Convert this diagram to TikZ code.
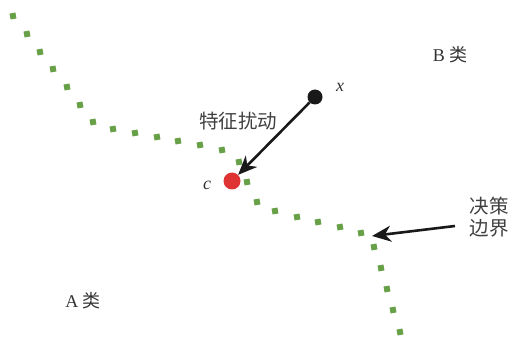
\documentclass[tikz,border=0pt]{standalone}
\usepackage{fontspec}
\setmainfont{Liberation Serif}
\newfontfamily\cjk{Noto Sans CJK SC}
\usetikzlibrary{arrows.meta}
\definecolor{dotgreen}{RGB}{104,160,72}
\definecolor{cred}{RGB}{222,52,52}
\tikzset{
  dotsq/.style={fill=dotgreen, minimum size=6pt, inner sep=0pt, draw=none, rectangle, rotate=10},
  arr/.style={-{Stealth[length=19pt,width=16pt,inset=6pt]}, line width=2.6pt, black!90},
  lbl/.style={font=\fontsize{18}{20}\selectfont, inner sep=0pt, text=black!80},
  cjklbl/.style={font=\fontsize{19.5}{22}\selectfont\cjk, inner sep=0pt, text=black!75},
}
\begin{document}
\begin{tikzpicture}[x=1pt,y=-1pt]
\useasboundingbox (0,0) rectangle (509,342);
% decision boundary dots
\foreach \p [count=\i] in {(13,16),(27,34),(40,52),(53,69),(67,87),(80,105),(93,122),
  (113,129),(135,133),(157,137),(178,141),(200,145),(222,150),(239,162),
  (247,182),(257,202),(275,211),(297,217),(318,222),(340,227),(361,233),
  (374,247),(381,268),(387,289),(393,310),(400,332)}
  \node[dotsq] (d\i) at \p {};
% points
\node[circle, fill=black!90, minimum size=15pt, inner sep=0pt] (x) at (315,97) {};
\node[circle, fill=cred, minimum size=17pt, inner sep=0pt] (c) at (232,181) {};
\draw[arr] (x) -- (c);
% boundary arrow
\coordinate (bs) at (455,226);
\coordinate (bt) at (372,236);
\draw[arr] (bs) -- (bt);
% labels
\node[lbl] (xl) at (340,87) {\textit{x}};
\node[lbl] (cl) at (207,185) {\textit{c}};
\node[cjklbl] (pert) at (238,121) {特征扰动};
\node[cjklbl, align=center] (bnd) at (489,217) {决策\\边界};
\node[lbl] (bcls) at (450,55) {B {\cjk 类}};
\node[lbl] (acls) at (83,301) {A {\cjk 类}};
\end{tikzpicture}
\end{document}
